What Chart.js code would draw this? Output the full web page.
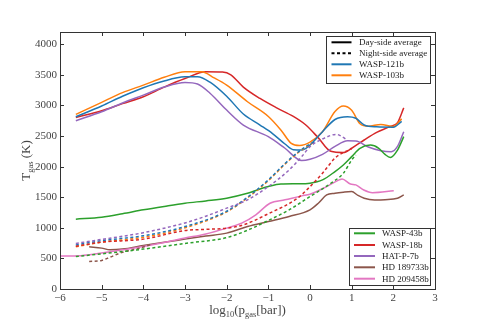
<!DOCTYPE html>
<html>
<head>
<meta charset="utf-8">
<script src="https://cdn.jsdelivr.net/npm/chart.js@4.4.1/dist/chart.umd.min.js"></script>
<style>
html, body { margin: 0; padding: 0; background: #fff; }
#wrap { width: 483px; height: 322px; position: relative; }
</style>
</head>
<body>
<div id="wrap"><canvas id="c"></canvas></div>
<script>
// log10(p_gas [bar]) vs T_gas (K)
const xTicks = [-6, -5, -4, -3, -2, -1, 0, 1, 2, 3];
const yTicks = [0, 500, 1000, 1500, 2000, 2500, 3000, 3500, 4000];

const colors = {
  'WASP-121b': '#1f77b4',
  'WASP-103b': '#ff7f0e',
  'WASP-43b': '#2ca02c',
  'WASP-18b': '#d62728',
  'HAT-P-7b': '#9467bd',
  'HD 189733b': '#8c564b',
  'HD 209458b': '#e377c2'
};

// day-side averages
const w121DayX = [-5.62, -5, -4.5, -4, -3.5, -3, -2.7, -2.4, -2, -1.6, -1.2, -0.9, -0.6, -0.4, -0.2, 0, 0.3, 0.6, 0.9, 1.1, 1.3, 1.6, 2.0, 2.2];
const w121DayY = [2815, 2990, 3150, 3290, 3400, 3467, 3470, 3380, 3150, 2860, 2680, 2540, 2370, 2275, 2270, 2353, 2571, 2770, 2815, 2790, 2680, 2650, 2645, 2740];

const w103DayX = [-5.62, -5, -4.5, -4, -3.5, -3, -2.6, -2.3, -2, -1.5, -1, -0.7, -0.45, -0.25, 0, 0.3, 0.6, 0.8, 1.0, 1.2, 1.4, 1.7, 2.0, 2.2];
const w103DayY = [2853, 3050, 3210, 3332, 3460, 3549, 3550, 3450, 3332, 3060, 2820, 2600, 2380, 2345, 2400, 2571, 2900, 2989, 2920, 2700, 2660, 2690, 2655, 2780];

const w18DayX = [-5.62, -5, -4.5, -4, -3.5, -3, -2.5, -2.1, -1.9, -1.6, -1.2, -0.8, -0.4, -0.1, 0.2, 0.5, 0.8, 1.0, 1.3, 1.6, 1.9, 2.1, 2.25];
const w18DayY = [2804, 2913, 3030, 3141, 3300, 3440, 3549, 3545, 3500, 3300, 3114, 2960, 2820, 2680, 2470, 2250, 2230, 2300, 2435, 2560, 2650, 2720, 2960];

const hat7DayX = [-5.62, -5, -4.5, -4, -3.5, -3, -2.7, -2.4, -2, -1.6, -1, -0.6, -0.2, 0, 0.3, 0.6, 0.9, 1.1, 1.4, 1.7, 1.95, 2.1, 2.25];
const hat7DayY = [2750, 2897, 3040, 3169, 3300, 3375, 3350, 3200, 2924, 2680, 2489, 2300, 2100, 2120, 2200, 2330, 2422, 2420, 2320, 2260, 2245, 2330, 2570];

const w43DayX = [-5.62, -5, -4.5, -4, -3.5, -3, -2.5, -2, -1.5, -1, -0.7, -0.3, 0, 0.3, 0.6, 0.8, 1.0, 1.2, 1.45, 1.65, 1.8, 1.93, 2.1, 2.25];
const w43DayY = [1141, 1174, 1230, 1294, 1350, 1402, 1440, 1484, 1565, 1674, 1716, 1720, 1730, 1783, 1919, 2027, 2163, 2299, 2352, 2300, 2200, 2150, 2270, 2490];

const hd189DayX = [-5.3, -5, -4.8, -4.5, -4, -3.5, -3, -2.5, -2, -1.5, -1, -0.5, 0, 0.2, 0.4, 0.6, 0.8, 1.0, 1.15, 1.3, 1.55, 1.8, 2.1, 2.25];
const hd189DayY = [690, 668, 641, 652, 711, 765, 815, 865, 913, 1022, 1103, 1185, 1294, 1402, 1537, 1565, 1582, 1592, 1530, 1483, 1456, 1460, 1483, 1537];

const hd209DayX = [-6, -5.5, -5, -4.5, -4, -3.5, -3, -2.5, -2, -1.64, -1.3, -0.96, -0.6, -0.2, 0, 0.4, 0.7, 0.77, 0.97, 1.1, 1.29, 1.5, 2.01];
const hd209DayY = [540, 545, 587, 640, 696, 760, 832, 900, 995, 1076, 1212, 1402, 1457, 1522, 1549, 1674, 1783, 1798, 1716, 1701, 1618, 1575, 1607];

// night-side averages
const w121NightX = [-5.62, -5, -4, -3, -2, -1.5, -1, -0.6, -0.3, 0, 0.1];
const w121NightY = [720, 790, 870, 1020, 1270, 1500, 1783, 2050, 2230, 2370, 2400];

const w103NightX = [-5.62, -5, -4, -3, -2, -1.5, -1, -0.6, -0.3, 0, 0.1];
const w103NightY = [690, 765, 845, 1000, 1260, 1490, 1770, 2040, 2220, 2360, 2400];

const w18NightX = [-5.62, -5, -4, -3, -2.5, -2, -1.6, -1, -0.3, 0, 0.3, 0.6, 0.8, 1.0];
const w18NightY = [700, 765, 815, 955, 975, 994, 1048, 1230, 1483, 1672, 1891, 2140, 2230, 2290];

const hat7NightX = [-5.62, -5, -4, -3, -2.5, -2, -1.5, -1, -0.5, -0.2, 0, 0.3, 0.63, 0.9];
const hat7NightY = [745, 810, 920, 1080, 1190, 1321, 1457, 1674, 1946, 2163, 2326, 2451, 2527, 2434];

const w43NightX = [-5.62, -5, -4, -3, -2, -1.5, -1, -0.5, 0, 0.5, 0.8, 1.0, 1.1];
const w43NightY = [531, 575, 652, 745, 840, 960, 1120, 1294, 1511, 1728, 1891, 2109, 2189];

const hd189NightX = [-5.3, -5, -4.8, -4.5, -4.17, -3.8];
const hd189NightY = [450, 467, 520, 600, 652, 730];

const series = [
  ['WASP-43b', w43NightX, w43NightY, true],
  ['HD 189733b', hd189NightX, hd189NightY, true],
  ['WASP-18b', w18NightX, w18NightY, true],
  ['HAT-P-7b', hat7NightX, hat7NightY, true],
  ['WASP-121b', w121NightX, w121NightY, true],
  ['WASP-103b', w103NightX, w103NightY, true],
  ['HD 209458b', hd209DayX, hd209DayY, false],
  ['HD 189733b', hd189DayX, hd189DayY, false],
  ['WASP-43b', w43DayX, w43DayY, false],
  ['HAT-P-7b', hat7DayX, hat7DayY, false],
  ['WASP-121b', w121DayX, w121DayY, false],
  ['WASP-103b', w103DayX, w103DayY, false],
  ['WASP-18b', w18DayX, w18DayY, false]
];

const legendTop = ['Day-side average', 'Night-side average', 'WASP-121b', 'WASP-103b'];
const legendBottom = ['WASP-43b', 'WASP-18b', 'HAT-P-7b', 'HD 189733b', 'HD 209458b'];

const serif = "'Liberation Serif', 'DejaVu Serif', serif";
const axisColor = '#333';

const datasets = series.map(([name, xs, ys, night]) => ({
  label: name + (night ? ' night' : ' day'),
  data: xs.map((x, i) => ({ x: x, y: ys[i] })),
  borderColor: colors[name],
  borderWidth: 1.5,
  borderDash: night ? [3, 2.5] : [],
  pointRadius: 0,
  fill: false,
  cubicInterpolationMode: 'monotone'
}));

// draws text with a subscript part: parts = [[text, isSub], ...]
function drawRich(ctx, parts, x, y, size, align) {
  const widths = parts.map(([t, sub]) => {
    ctx.font = (sub ? size * 0.65 : size) + 'px ' + serif;
    return ctx.measureText(t).width;
  });
  const total = widths.reduce((a, b) => a + b, 0);
  let cx = align === 'center' ? x - total / 2 : x;
  ctx.textAlign = 'left';
  ctx.textBaseline = 'alphabetic';
  parts.forEach(([t, sub], i) => {
    ctx.font = (sub ? size * 0.65 : size) + 'px ' + serif;
    ctx.fillText(t, cx, sub ? y + size * 0.25 : y);
    cx += widths[i];
  });
}

function drawLegend(ctx, box, rows, x0, x1, tx, ys) {
  ctx.save();
  ctx.fillStyle = '#fff';
  ctx.fillRect(box[0], box[1], box[2] - box[0], box[3] - box[1]);
  ctx.strokeStyle = axisColor;
  ctx.lineWidth = 1;
  ctx.strokeRect(box[0] + 0.5, box[1] + 0.5, box[2] - box[0], box[3] - box[1]);
  rows.forEach((r, i) => {
    ctx.beginPath();
    ctx.strokeStyle = r.color;
    ctx.lineWidth = 2;
    ctx.setLineDash(r.dash);
    ctx.moveTo(x0, ys[i]);
    ctx.lineTo(x1, ys[i]);
    ctx.stroke();
    ctx.setLineDash([]);
    ctx.fillStyle = '#222';
    ctx.font = '9px ' + serif;
    ctx.textAlign = 'left';
    ctx.textBaseline = 'middle';
    ctx.fillText(r.text, tx, ys[i] + 0.5);
  });
  ctx.restore();
}

const framePlugin = {
  id: 'frame',
  afterDraw(chart) {
    const ctx = chart.ctx;
    const a = chart.chartArea;
    const xs = chart.scales.x;
    const ys = chart.scales.y;
    ctx.save();
    ctx.strokeStyle = axisColor;
    ctx.lineWidth = 1;
    ctx.strokeRect(Math.round(a.left) + 0.5, Math.round(a.top) + 0.5,
      Math.round(a.right - a.left), Math.round(a.bottom - a.top));
    ctx.beginPath();
    xTicks.forEach(v => {
      const px = Math.round(xs.getPixelForValue(v)) + 0.5;
      ctx.moveTo(px, a.bottom); ctx.lineTo(px, a.bottom - 4);
      ctx.moveTo(px, a.top); ctx.lineTo(px, a.top + 4);
    });
    yTicks.forEach(v => {
      const py = Math.round(ys.getPixelForValue(v)) + 0.5;
      ctx.moveTo(a.left, py); ctx.lineTo(a.left + 4, py);
      ctx.moveTo(a.right, py); ctx.lineTo(a.right - 4, py);
    });
    ctx.stroke();

    // axis titles
    ctx.fillStyle = '#444';
    drawRich(ctx, [['log', false], ['10', true], ['(p', false], ['gas', true], ['[bar])', false]],
      (a.left + a.right) / 2, 314, 13, 'center');
    ctx.save();
    ctx.translate(30, (a.top + a.bottom) / 2);
    ctx.rotate(-Math.PI / 2);
    drawRich(ctx, [['T', false], ['gas', true], [' (K)', false]], 0, 0, 13, 'center');
    ctx.restore();

    // legends
    const topRows = [
      { text: legendTop[0], color: '#000', dash: [] },
      { text: legendTop[1], color: '#000', dash: [3, 2.5] },
      { text: legendTop[2], color: colors[legendTop[2]], dash: [] },
      { text: legendTop[3], color: colors[legendTop[3]], dash: [] }
    ];
    drawLegend(ctx, [326, 36, 430, 83], topRows, 331.5, 351.5, 359, [42.3, 53.3, 64.3, 75.3]);
    const botRows = legendBottom.map(n => ({ text: n, color: colors[n], dash: [] }));
    drawLegend(ctx, [349, 228, 430, 285], botRows, 354, 375, 382, [233.3, 245, 256, 267.3, 278.7]);
    ctx.restore();
  }
};

new Chart(document.getElementById('c'), {
  type: 'line',
  data: { datasets: datasets },
  options: {
    responsive: true,
    maintainAspectRatio: false,
    animation: false,
    layout: { padding: { top: 32, right: 48, left: 0, bottom: 0 } },
    plugins: { legend: { display: false }, tooltip: { enabled: false } },
    scales: {
      x: {
        type: 'linear',
        min: -6,
        max: 3,
        afterFit: s => { s.height = 33; },
        afterBuildTicks: s => { s.ticks = xTicks.map(v => ({ value: v })); },
        grid: { display: false, drawTicks: false },
        border: { display: false },
        ticks: {
          autoSkip: false,
          maxRotation: 0,
          padding: 3,
          color: '#444',
          font: { family: serif, size: 11 },
          callback: v => (v < 0 ? '\u2212' + Math.abs(v) : String(v))
        }
      },
      y: {
        type: 'linear',
        min: 0,
        max: 4200,
        afterFit: s => { s.width = 60; },
        afterBuildTicks: s => { s.ticks = yTicks.map(v => ({ value: v })); },
        grid: { display: false, drawTicks: false },
        border: { display: false },
        ticks: {
          autoSkip: false,
          padding: 3,
          color: '#444',
          font: { family: serif, size: 11 },
          callback: v => String(v)
        }
      }
    }
  },
  plugins: [framePlugin]
});
</script>
</body>
</html>
